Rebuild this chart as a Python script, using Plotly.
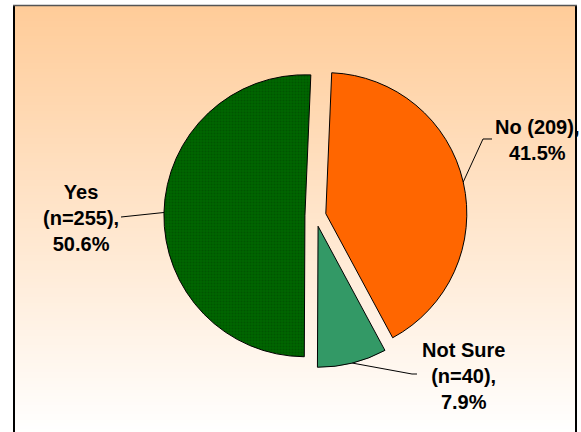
import math
import plotly.graph_objects as go

# Survey answers (clockwise from the top)
labels = ["No (209)", "Not Sure", "Yes"]
counts = [209, 40, 255]
label_text = ["No (209),<br>41.5%", "Not Sure<br>(n=40),<br>7.9%", "Yes<br>(n=255),<br>50.6%"]

# Styling
slice_colors = ["#FF6600", "#339966", "#006600"]
pattern_fg = ["#FF6600", "#339966", "#004400"]
pattern_shape = ["", "", "."]

W, H = 581, 432
CX, CY = 315.5, 216.0    # pie centre in pixels
R = 141.0                # slice radius in pixels
PULL = 0.075             # explosion as a fraction of the radius
ROT = 2.4                # start angle of the first slice (deg, clockwise)

# label anchors (block centres) and leader-line elbows, in pixels
label_xy = [(537, 140.5), (463, 376), (81, 218)]
leader_tail = [[(483, 139), (492, 139)], [(412, 374), (417, 374)], [(121, 217)]]


def px(x):
    return x / W


def py(y):
    return 1 - y / H


half = R * (1 + PULL)
dom_x = [px(CX - half), px(CX + half)]
dom_y = [py(CY + half), py(CY - half)]

fig = go.Figure(go.Pie(
    labels=labels,
    values=counts,
    sort=False,
    direction="clockwise",
    rotation=ROT,
    pull=[PULL] * len(counts),
    textinfo="none",
    hoverinfo="label+value+percent",
    showlegend=False,
    domain=dict(x=dom_x, y=dom_y),
    marker=dict(
        colors=slice_colors,
        line=dict(color="#000000", width=1),
        pattern=dict(shape=pattern_shape, fgcolor=pattern_fg, bgcolor=slice_colors,
                     size=3, solidity=0.35, fillmode="overlay"),
    ),
))

shapes = []

# vertical gradient background, light orange fading to white
top, bottom = 6, H
c0 = (255, 204, 153)
c1 = (255, 255, 255)
step = 3
y = top
while y < bottom:
    t = (y - top) / (bottom - top)
    col = tuple(round(a + (b - a) * t) for a, b in zip(c0, c1))
    shapes.append(dict(type="rect", xref="paper", yref="paper", layer="below",
                       x0=px(14), x1=px(575), y0=py(min(y + step, bottom)), y1=py(y),
                       line=dict(width=0), fillcolor="rgb(%d,%d,%d)" % col))
    y += step

# chart-area frame
shapes.append(dict(type="line", xref="paper", yref="paper", x0=px(14), x1=px(14),
                   y0=py(5), y1=py(H + 2), line=dict(color="#000000", width=2)))
shapes.append(dict(type="line", xref="paper", yref="paper", x0=px(576), x1=px(576),
                   y0=py(5), y1=py(H + 2), line=dict(color="#000000", width=2)))
shapes.append(dict(type="line", xref="paper", yref="paper", x0=px(13), x1=px(577),
                   y0=py(5.5), y1=py(5.5), line=dict(color="#555555", width=1.5)))

# leader lines from each slice's mid-arc to its label
total = sum(counts)
cum = 0
for i, v in enumerate(counts):
    theta = math.radians(ROT + 360 * (cum + v / 2) / total)
    cum += v
    ax = CX + (1 + PULL) * R * math.sin(theta)
    ay = CY - (1 + PULL) * R * math.cos(theta)
    pts = [(ax, ay)] + leader_tail[i]
    path = "M " + " L ".join("%f,%f" % (px(x), py(y)) for x, y in pts)
    shapes.append(dict(type="path", xref="paper", yref="paper", path=path,
                       line=dict(color="#000000", width=1)))

annotations = [
    dict(text=txt, x=px(x), y=py(y), xref="paper", yref="paper",
         xanchor="center", yanchor="middle", align="center", showarrow=False,
         font=dict(family="Liberation Sans, Arial, sans-serif", size=20,
                   color="#000000", weight="bold"))
    for txt, (x, y) in zip(label_text, label_xy)
]

fig.update_layout(
    width=W, height=H,
    margin=dict(l=0, r=0, t=0, b=0),
    paper_bgcolor="#FFFFFF",
    plot_bgcolor="#FFFFFF",
    shapes=shapes,
    annotations=annotations,
)

fig.write_html("out.html")
